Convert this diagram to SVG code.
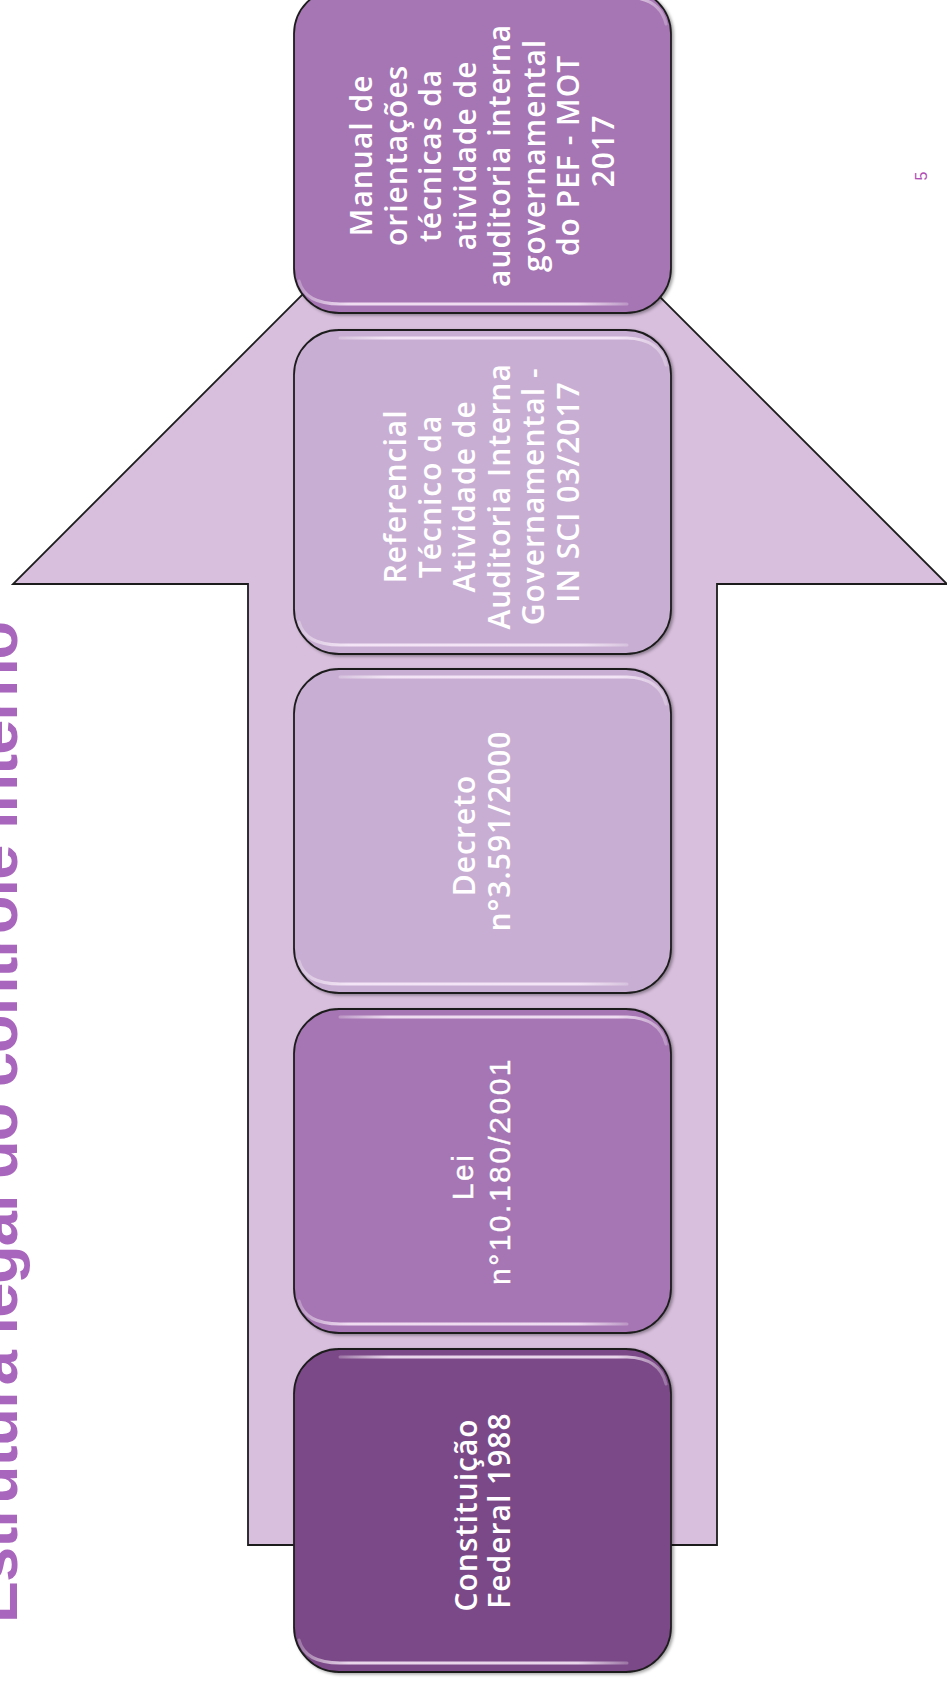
<svg xmlns="http://www.w3.org/2000/svg" width="947" height="1683" viewBox="0 0 947 1683">
  <style>
    .box { stroke: #1c1c1c; stroke-width: 1.8; filter: url(#soft); }
    .hl { fill: none; stroke: url(#gloss); stroke-width: 3; stroke-linecap: round; }
    .lbl { fill: #ffffff; font-family: "Open Sans", "Noto Sans", "DejaVu Sans", sans-serif; font-weight: 600; font-size: 30px; letter-spacing: 1px; text-anchor: middle; }
    .lbl-arial { fill: #ffffff; font-family: "Liberation Sans", Arial, sans-serif; font-size: 30px; letter-spacing: 2.5px; text-anchor: middle; stroke: #ffffff; stroke-width: 0.4; }
    .title { fill: #a966bd; font-family: "Liberation Sans", Arial, sans-serif; font-weight: 700; font-size: 63px; }
    .pagenum { fill: #b24fb6; font-family: "Liberation Sans", Arial, sans-serif; font-size: 16px; text-anchor: middle; }
  </style>
  <defs>
    <filter id="soft" x="-10%" y="-10%" width="120%" height="120%">
      <feDropShadow dx="2" dy="1.5" stdDeviation="1.8" flood-color="#000000" flood-opacity="0.35"/>
    </filter>
    <linearGradient id="gloss" x1="0" y1="0" x2="1" y2="0">
      <stop offset="0" stop-color="#ffffff" stop-opacity="0.25"/>
      <stop offset="0.15" stop-color="#fbeefc" stop-opacity="0.85"/>
      <stop offset="0.85" stop-color="#fbeefc" stop-opacity="0.85"/>
      <stop offset="1" stop-color="#ffffff" stop-opacity="0.25"/>
    </linearGradient>
  </defs>

  <rect x="0" y="0" width="947" height="1683" fill="#ffffff"/>

  <!-- upward block arrow behind the stages -->
  <g id="arrow">
    <path d="M248,1545 L248,584 L13,584 L480,117 L947,584 L717,584 L717,1545 Z" fill="#d8bfdd" stroke="#1c1c1c" stroke-width="1.8" stroke-linejoin="miter"/>
  </g>

  <g id="connectors"/>

  <!-- stage 5 (top) -->
  <g id="node-manual">
    <rect class="box" x="294" y="-11" width="377" height="324" rx="45" ry="45" fill="#a675b3"/>
    <path class="hl" d="M340,-3 H627 Q660,-2 666,24"/>
    <path class="hl" d="M299,281 Q305,304 340,304 H627"/>
    <text class="lbl" transform="translate(482.5,151) rotate(-90)">
      <tspan x="0" y="-110.5">Manual de</tspan>
      <tspan x="0" y="-76">orientações</tspan>
      <tspan x="0" y="-41.5">técnicas da</tspan>
      <tspan x="0" y="-7">atividade de</tspan>
      <tspan x="0" y="27.5">auditoria interna</tspan>
      <tspan x="0" y="62">governamental</tspan>
      <tspan x="0" y="96.5">do PEF - MOT</tspan>
      <tspan x="0" y="131">2017</tspan>
    </text>
  </g>

  <!-- stage 4 -->
  <g id="node-referencial">
    <rect class="box" x="294" y="330" width="377" height="324" rx="45" ry="45" fill="#c9aed3"/>
    <path class="hl" d="M340,338 H627 Q660,339 666,365"/>
    <path class="hl" d="M299,622 Q305,645 340,645 H627"/>
    <text class="lbl" transform="translate(482.5,492) rotate(-90)">
      <tspan x="0" y="-76.5">Referencial</tspan>
      <tspan x="0" y="-42">Técnico da</tspan>
      <tspan x="0" y="-7.5">Atividade de</tspan>
      <tspan x="0" y="27">Auditoria Interna</tspan>
      <tspan x="0" y="61.5">Governamental -</tspan>
      <tspan x="0" y="96">IN SCI 03/2017</tspan>
    </text>
  </g>

  <!-- stage 3 -->
  <g id="node-decreto">
    <rect class="box" x="294" y="669" width="377" height="324" rx="45" ry="45" fill="#c9aed3"/>
    <path class="hl" d="M340,677 H627 Q660,678 666,704"/>
    <path class="hl" d="M299,961 Q305,984 340,984 H627"/>
    <text class="lbl" transform="translate(482.5,831) rotate(-90)">
      <tspan x="0" y="-7.5">Decreto</tspan>
      <tspan x="0" y="27.5">n°3.591/2000</tspan>
    </text>
  </g>

  <!-- stage 2 -->
  <g id="node-lei">
    <rect class="box" x="294" y="1009" width="377" height="324" rx="45" ry="45" fill="#a675b3"/>
    <path class="hl" d="M340,1017 H627 Q660,1018 666,1044"/>
    <path class="hl" d="M299,1301 Q305,1324 340,1324 H627"/>
    <text class="lbl-arial" transform="translate(482.5,1171) rotate(-90)">
      <tspan x="0" y="-9.5">Lei</tspan>
      <tspan x="0" y="27.5">n°10.180/2001</tspan>
    </text>
  </g>

  <!-- stage 1 (base) -->
  <g id="node-constituicao">
    <rect class="box" x="294" y="1349" width="377" height="323" rx="45" ry="45" fill="#7c4888"/>
    <path class="hl" d="M340,1357 H627 Q660,1358 666,1384"/>
    <path class="hl" d="M299,1640 Q305,1663 340,1663 H627"/>
    <text class="lbl" transform="translate(482.5,1510.5) rotate(-90)">
      <tspan x="0" y="-5.5">Constituição</tspan>
      <tspan x="0" y="27.5">Federal 1988</tspan>
    </text>
  </g>

  <!-- slide title along the left edge -->
  <g id="title">
    <text class="title" transform="translate(17,1623) rotate(-90)" x="0" y="0" textLength="1002" lengthAdjust="spacing">Estrutura legal  do controle interno</text>
  </g>

  <!-- page number -->
  <g id="page-number">
    <text class="pagenum" transform="translate(927,176) rotate(-90)" x="0" y="0">5</text>
  </g>
</svg>
